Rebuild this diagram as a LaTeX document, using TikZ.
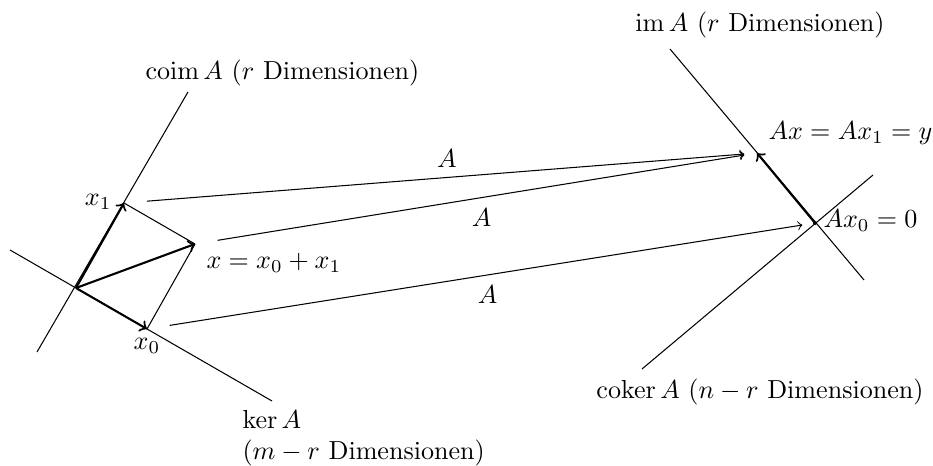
\documentclass[tikz,border=0pt]{standalone}
\usepackage{amsmath}
\begin{document}
\begin{tikzpicture}[x=0.3835pt,y=-0.3835pt,
  thinline/.style={line width=0.4pt},
  vecarrow/.style={thick,->},
  maparrow/.style={->,shorten <=8.8pt,shorten >=4.9pt},
  lbl/.style={inner sep=0pt}]
\useasboundingbox (0,0) rectangle (933,466);
% left side
\coordinate (O) at (76,288);
\coordinate (x1) at (124,203);
\coordinate (x0) at (147,329);
\coordinate (x) at (195,244);
\coordinate (coimA) at (37,352);
\coordinate (coimB) at (188,92);
\coordinate (kerA) at (10,250);
\coordinate (kerB) at (272,401);
\draw[thinline] (coimA) -- (coimB);
\draw[thinline] (kerA) -- (kerB);
\draw[thinline] (x1) -- (x);
\draw[thinline] (x0) -- (x);
\draw[vecarrow] (O) -- (x1);
\draw[vecarrow] (O) -- (x0);
\draw[vecarrow] (O) -- (x);
% right side
\coordinate (P) at (815,223);
\coordinate (y) at (757,153);
\coordinate (imA) at (670,49);
\coordinate (imB) at (864,280);
\coordinate (cokA) at (642,369);
\coordinate (cokB) at (873,175);
\draw[thinline] (imA) -- (imB);
\draw[thinline] (cokA) -- (cokB);
\draw[vecarrow] (P) -- (y);
\fill (P) circle (2);
% maps
\draw[maparrow] (x1) -- node[lbl,above=3.8pt,pos=0.51] (a1) {$A$} (y);
\draw[maparrow] (x) -- node[lbl,below=4.2pt,pos=0.51] (a2) {$A$} (y);
\draw[maparrow] (x0) -- node[lbl,below=3.8pt,pos=0.51] (a3) {$A$} (P);
% labels
\node[lbl,anchor=west] (lcoim) at (145,73) {$\operatorname{coim} A$ ($r$ Dimensionen)};
\node[lbl] (lim) at (760,25) {$\operatorname{im} A$ ($r$ Dimensionen)};
\node[lbl] (lcoker) at (760,392) {$\operatorname{coker} A$ ($n-r$ Dimensionen)};
\node[lbl,anchor=north west,align=left] (lker) at (242,410) {$\ker A$\\($m-r$ Dimensionen)};
\node[lbl,anchor=east] (lx1) at (112,202) {$x_1$};
\node[lbl] (lx0) at (147,346) {$x_0$};
\node[lbl,anchor=west] (lx) at (206,263) {$x = x_0 + x_1$};
\node[lbl,anchor=west] (ly) at (768,133) {$Ax = Ax_1 = y$};
\node[lbl,anchor=west] (lP) at (823,221) {$Ax_0 = 0$};
\end{tikzpicture}
\end{document}
